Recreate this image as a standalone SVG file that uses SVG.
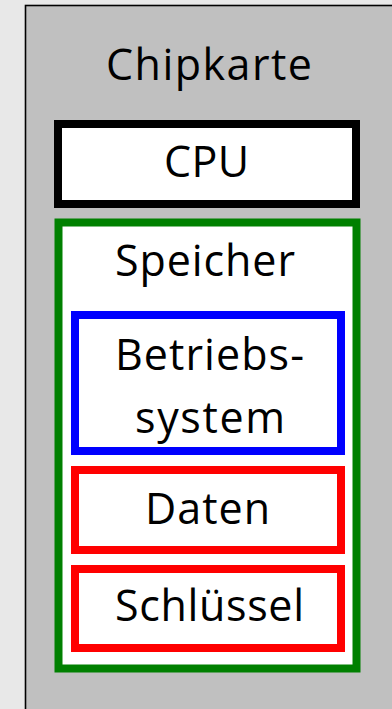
<svg xmlns="http://www.w3.org/2000/svg" width="392" height="709" viewBox="0 0 392 709">
  <style>
    .lbl { font-family: "Open Sans", "Noto Sans", "Liberation Sans", sans-serif; font-size: 43px; fill: #000; text-anchor: middle; }
    .box { fill: #fff; stroke-width: 8; }
  </style>
  <!-- page background -->
  <rect x="0" y="0" width="392" height="709" fill="#e8e8e8"/>

  <!-- smart card body -->
  <g id="chipkarte">
    <rect x="25.5" y="5.5" width="420" height="760" fill="#c0c0c0" stroke="#000" stroke-width="1.6"/>
    <text class="lbl" x="209" y="80" textLength="206" lengthAdjust="spacing">Chipkarte</text>
  </g>

  <g id="cpu">
    <rect class="box" x="58" y="124" width="298" height="80" stroke="#000"/>
    <text class="lbl" x="206.5" y="177" textLength="85" lengthAdjust="spacing">CPU</text>
  </g>

  <g id="speicher">
    <rect class="box" x="58.5" y="222.5" width="298" height="446" stroke="#008000" stroke-width="7.5"/>
    <text class="lbl" x="205" y="276" textLength="180" lengthAdjust="spacing">Speicher</text>
  </g>

  <g id="betriebssystem">
    <rect class="box" x="75" y="315" width="266" height="136" stroke="#0000ff"/>
    <text class="lbl" x="209.5" y="370" textLength="189" lengthAdjust="spacing">Betriebs-</text>
    <text class="lbl" x="210" y="433" textLength="150" lengthAdjust="spacing">system</text>
  </g>

  <g id="daten">
    <rect class="box" x="75" y="470" width="266" height="80" stroke="#ff0000"/>
    <text class="lbl" x="207.5" y="524" textLength="125" lengthAdjust="spacing">Daten</text>
  </g>

  <g id="schluessel">
    <rect class="box" x="75" y="569" width="266" height="79" stroke="#ff0000"/>
    <text class="lbl" x="209.5" y="621" textLength="189" lengthAdjust="spacing">Schlüssel</text>
  </g>

  <g id="connectors"/>
</svg>
